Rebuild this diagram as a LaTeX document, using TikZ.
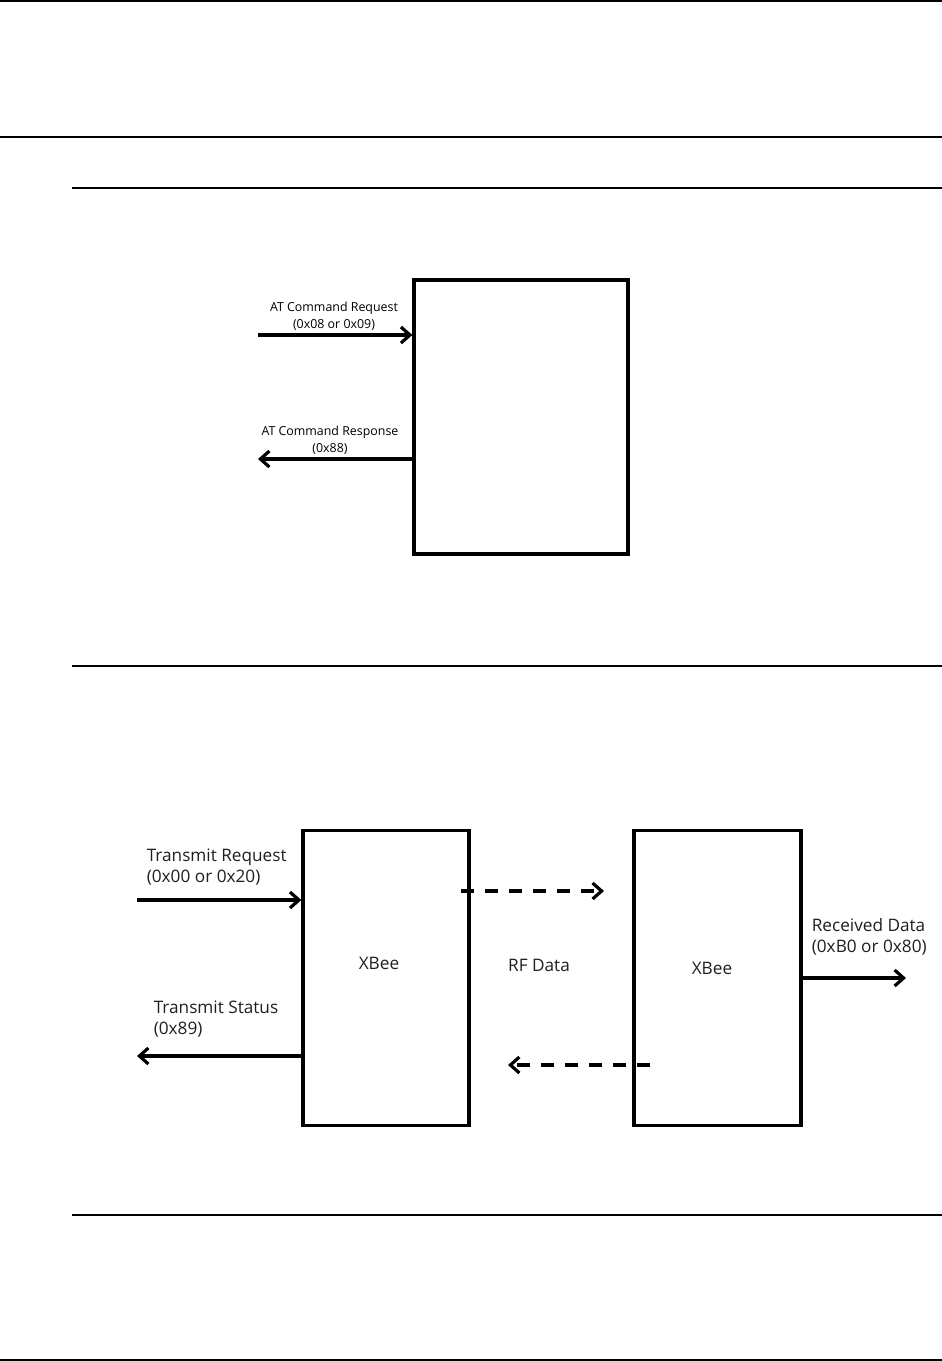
\documentclass[tikz,border=0pt]{standalone}
\usepackage{fontspec}
\setmainfont{Open Sans}
\usetikzlibrary{arrows.meta, positioning}

\begin{document}
\begin{tikzpicture}[x=1pt,y=-1pt,
    line width=3.6pt,
    >={Straight Barb[length=9pt,width=16pt,line width=3.2pt]}]
  \tikzstyle{frame}=[draw,line width=3.3pt,inner sep=0pt]
  \tikzstyle{rule}=[line width=2pt]
  \tikzstyle{smalltxt}=[inner sep=0pt,align=center,font=\fontsize{12.4}{17}\selectfont,text=black]
  \tikzstyle{bigtxt}=[inner sep=0pt,align=left,font=\fontsize{17.2}{21}\selectfont,text=black!88]
  \useasboundingbox (0,0) rectangle (942,1361);
  % page rules
  \coordinate (r0l) at (0,1);      \coordinate (r0r) at (942,1);
  \coordinate (r1l) at (0,137);    \coordinate (r1r) at (942,137);
  \coordinate (r2l) at (72,188);   \coordinate (r2r) at (942,188);
  \coordinate (r3l) at (72,666);   \coordinate (r3r) at (942,666);
  \coordinate (r4l) at (72,1215);  \coordinate (r4r) at (942,1215);
  \coordinate (r5l) at (0,1360);   \coordinate (r5r) at (942,1360);
  \foreach \r in {0,...,5} \draw[rule] (r\r l) -- (r\r r);

  % AT command frame
  \node[frame, minimum width=214pt, minimum height=274pt] (atbox) at (521,417) {};
  \coordinate (atin) at (258,335);
  \coordinate (atout) at (258,459);
  \draw[->] (atin) -- (atin -| atbox.west);
  \draw[->] (atout -| atbox.west) -- (atout);
  \node[smalltxt, anchor=base] (atreq) at (334,328) {AT Command Request\\(0x08 or 0x09)};
  \node[smalltxt, anchor=base] (atres) at (330,452) {AT Command Response\\(0x88)};

  % transmit / receive
  \node[frame, minimum width=166pt, minimum height=295pt] (xb1) at (386,978) {};
  \node[frame, minimum width=167pt, minimum height=295pt] (xb2) at (717.5,978) {};
  \node[bigtxt] (xb1lbl) at (379,963) {XBee};
  \node[bigtxt] (xb2lbl) at (712,968) {XBee};
  \node[bigtxt] (rf) at (539,965) {RF Data};

  \coordinate (txin) at (137,900);
  \coordinate (txst) at (137,1056);
  \draw[->] (txin) -- (txin -| xb1.west);
  \draw[->] (txst -| xb1.west) -- (txst);
  \node[bigtxt, anchor=base west] (txreq) at (145,882) {Transmit Request\\(0x00 or 0x20)};
  \node[bigtxt, anchor=base west] (txstat) at (152,1034) {Transmit Status\\(0x89)};

  \coordinate (rfa) at (461,891);  \coordinate (rfb) at (604,891);
  \coordinate (rfc) at (650,1065); \coordinate (rfd) at (508,1065);
  \draw[->, dash pattern=on 13pt off 11pt] (rfa) -- (rfb);
  \draw[->, dash pattern=on 13pt off 11pt] (rfc) -- (rfd);

  \coordinate (rxout) at (906,978);
  \draw[->] (rxout -| xb2.east) -- (rxout);
  \node[bigtxt, anchor=base west] (rxlbl) at (810,952) {Received Data\\(0xB0 or 0x80)};
\end{tikzpicture}
\end{document}
